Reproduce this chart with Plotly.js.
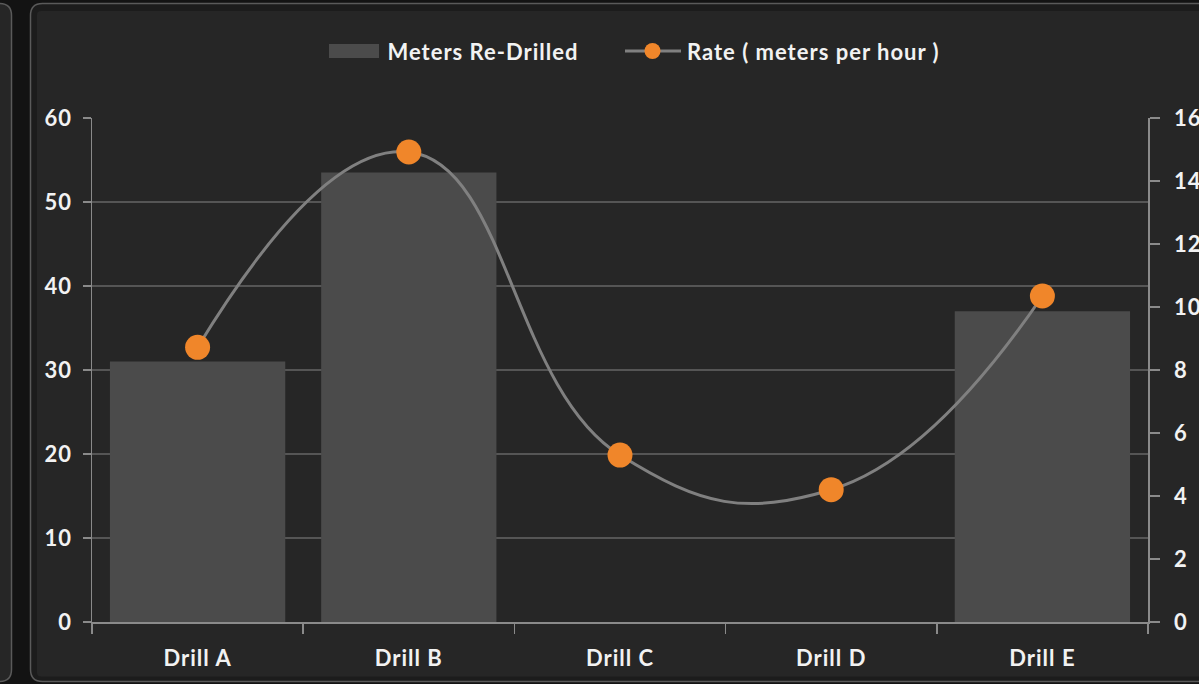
<!DOCTYPE html>
<html>
<head>
<meta charset="utf-8">
<script src="https://cdn.plot.ly/plotly-3.0.1.min.js"></script>
<style>html,body{margin:0;padding:0;background:#131313;}#chart{width:1199px;height:684px;}
#chart svg text{letter-spacing:1px;}</style>
</head>
<body>
<div id="chart"></div>
<script>
const categories = ["Drill A", "Drill B", "Drill C", "Drill D", "Drill E"];
const metersReDrilled = [31, 53.5, 0, 0, 37];
const ratePerHour = [8.72, 14.92, 5.3, 4.2, 10.35];
const barName = "Meters Re-Drilled";
const lineName = "Rate ( meters per hour )";

const W = 1199, H = 684, L = 92, R = 1148, T = 118, B = 622;
const px = x => (x - L) / (R - L);
const py = y => (B - y) / (B - T);
function rrect(x0, y0, x1, y1, r) {
  const p = (x, y) => px(x) + ',' + py(y);
  return 'M' + p(x0 + r, y0) + ' L' + p(x1 - r, y0) + ' Q' + p(x1, y0) + ' ' + p(x1, y0 + r) +
    ' L' + p(x1, y1 - r) + ' Q' + p(x1, y1) + ' ' + p(x1 - r, y1) +
    ' L' + p(x0 + r, y1) + ' Q' + p(x0, y1) + ' ' + p(x0, y1 - r) +
    ' L' + p(x0, y0 + r) + ' Q' + p(x0, y0) + ' ' + p(x0 + r, y0) + ' Z';
}

const font = {family: "Lato, 'Open Sans', sans-serif", size: 22, color: "#f2f2f2", weight: "bold"};

const traces = [
  {
    type: "bar", x: categories, y: metersReDrilled, name: barName,
    marker: {color: "#4b4b4b"}, hoverinfo: "x+y"
  },
  {
    type: "scatter", mode: "lines+markers", x: categories, y: ratePerHour, name: lineName,
    yaxis: "y2", line: {color: "#808080", width: 3, shape: "spline", smoothing: 1.3},
    marker: {color: "#f0862a", size: 25}, cliponaxis: false
  }
];

const shapes = [
  {type: "path", xref: "paper", yref: "paper", layer: "below", path: rrect(-60, 3.5, 11.5, 681.5, 12),
   fillcolor: "#262626", line: {color: "#5a5a5a", width: 1.5}},
  {type: "path", xref: "paper", yref: "paper", layer: "below", path: rrect(30.5, 3.5, 1230, 681.5, 12),
   fillcolor: "#1c1c1c", line: {color: "#5a5a5a", width: 1.5}},
  {type: "path", xref: "paper", yref: "paper", layer: "below", path: rrect(37, 11, 1225, 676.5, 4),
   fillcolor: "#262626", line: {width: 0}},
  // legend
  {type: "rect", xref: "paper", yref: "paper", x0: px(329), x1: px(379), y0: py(58), y1: py(44),
   fillcolor: "#4b4b4b", line: {width: 0}},
  {type: "line", xref: "paper", yref: "paper", x0: px(625), x1: px(681), y0: py(51), y1: py(51),
   line: {color: "#808080", width: 3}},
  {type: "circle", xref: "paper", yref: "paper", x0: px(644.5), x1: px(660.5), y0: py(59), y1: py(43),
   fillcolor: "#f0862a", line: {width: 0}}
];

const annotations = [
  {xref: "paper", yref: "paper", x: px(394), y: py(51), xanchor: "left", yanchor: "middle",
   text: barName, showarrow: false, font: font},
  {xref: "paper", yref: "paper", x: px(697), y: py(51), xanchor: "left", yanchor: "middle",
   text: lineName, showarrow: false, font: font}
];

const layout = {
  width: W, height: H,
  margin: {l: L, r: W - R, t: T, b: H - B, pad: 0},
  paper_bgcolor: "#131313", plot_bgcolor: "rgba(0,0,0,0)",
  showlegend: false, bargap: 0.17,
  font: font,
  xaxis: {
    type: "category", categoryarray: categories, range: [-0.5, 4.5], fixedrange: true,
    showline: true, linecolor: "#8a8a8a", linewidth: 1.5,
    ticks: "outside", tickson: "boundaries", ticklen: 10, tickcolor: "#8a8a8a", tickwidth: 1.5,
    showgrid: false, tickfont: font, ticklabelstandoff: 16
  },
  yaxis: {
    range: [0, 60], dtick: 10, showline: true, linecolor: "#8a8a8a", linewidth: 1.5,
    ticks: "outside", ticklen: 8, tickcolor: "#8a8a8a", tickwidth: 1.5,
    gridcolor: "#555555", gridwidth: 1.5, zeroline: false, tickfont: font, ticklabelstandoff: 6
  },
  yaxis2: {
    range: [0, 16], dtick: 2, overlaying: "y", side: "right", showgrid: false, zeroline: false,
    showline: true, linecolor: "#8a8a8a", linewidth: 1.5,
    ticks: "outside", ticklen: 10, tickcolor: "#8a8a8a", tickwidth: 1.5, tickfont: font, ticklabelstandoff: 10
  },
  shapes: shapes, annotations: annotations
};

Plotly.newPlot("chart", traces, layout, {displayModeBar: false, staticPlot: true});
</script>
</body>
</html>
